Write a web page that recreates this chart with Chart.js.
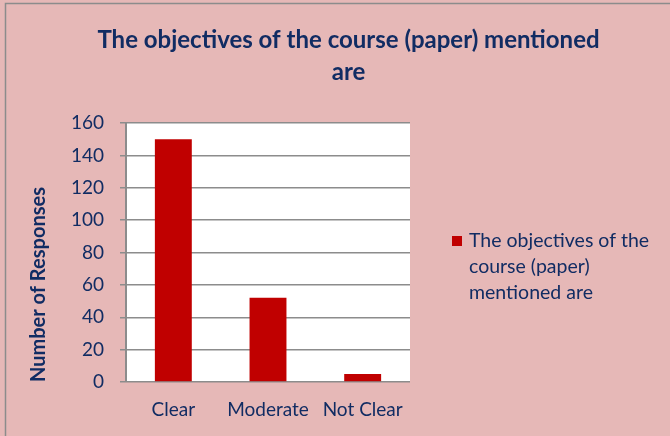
<!DOCTYPE html>
<html>
<head>
<meta charset="utf-8">
<script src="https://cdn.jsdelivr.net/npm/chart.js@4"></script>
<style>
  html, body { margin: 0; padding: 0; background: #e6b8b7; }
  #wrap { width: 670px; height: 436px; position: relative; }
</style>
</head>
<body>
<div id="wrap"><canvas id="responsesChart" width="670" height="436"></canvas></div>
<script>
// ## RESPONSES CHART ##

const categories = ["Clear", "Moderate", "Not Clear"];
const responses = [150, 52, 5];
const seriesLabel = "The objectives of the course (paper) mentioned are";
const titleLines = ["The objectives of the course (paper) mentioned", "are"];
const legendLines = ["The objectives of the", "course (paper)", "mentioned are"];
const yTicks = { min: 0, max: 160, step: 20 };

const navy = "#112c63";
const fontFamily = "Lato, 'Open Sans', sans-serif";

// pink page, grey frame and white plot area
const backgroundPlugin = {
  id: "background",
  beforeDraw(chart) {
    const { ctx, chartArea } = chart;
    ctx.save();
    ctx.fillStyle = "#e6b8b7";
    ctx.fillRect(0, 0, chart.width, chart.height);
    ctx.strokeStyle = "#8c8c8c";
    ctx.lineWidth = 1.5;
    ctx.strokeRect(5.5, 3.5, chart.width + 10, chart.height + 10);
    ctx.fillStyle = "#ffffff";
    ctx.fillRect(chartArea.left, chartArea.top, chartArea.right - chartArea.left, chartArea.bottom - chartArea.top);
    ctx.restore();
  },
};

// legend with wrapped text, placed right of the plot
const wrappedLegend = {
  id: "wrappedLegend",
  afterDraw(chart) {
    const { ctx, chartArea } = chart;
    const ds = chart.data.datasets[0];
    const x = chartArea.right + 42;
    const y = 241;
    const lineH = 26;
    ctx.save();
    ctx.fillStyle = ds.backgroundColor;
    ctx.fillRect(x, y - 5, 10, 10);
    ctx.fillStyle = navy;
    ctx.font = "19.5px " + fontFamily;
    ctx.textBaseline = "middle";
    ctx.textAlign = "left";
    legendLines.forEach((line, i) => ctx.fillText(line, x + 17, y + i * lineH));
    ctx.restore();
  },
};

const ctx = document.getElementById("responsesChart").getContext("2d");
window.responsesChart = new Chart(ctx, {
  type: "bar",
  data: {
    labels: categories,
    datasets: [
      {
        label: seriesLabel,
        data: responses,
        backgroundColor: "#c00000",
        barPercentage: 1,
        categoryPercentage: 0.39,
      },
    ],
  },
  options: {
    responsive: false,
    animation: false,
    layout: { padding: { left: 27, right: 0, top: 0, bottom: 0 } },
    plugins: {
      legend: { display: false },
      tooltip: { enabled: false },
      title: {
        display: true,
        text: titleLines,
        color: navy,
        font: { family: fontFamily, size: 24, weight: "bold", lineHeight: "32px" },
        padding: { top: 24, bottom: 35 },
      },
    },
    scales: {
      x: {
        ticks: {
          color: navy,
          font: { family: fontFamily, size: 19 },
          padding: 16,
        },
        grid: { display: false, drawTicks: false },
        border: { display: false },
        afterFit(scale) {
          scale.height = 54;
        },
      },
      y: {
        min: yTicks.min,
        max: yTicks.max,
        ticks: {
          stepSize: yTicks.step,
          color: navy,
          font: { family: fontFamily, size: 19 },
          padding: 16,
        },
        grid: {
          color: "#8c8c8c",
          lineWidth: 1.5,
          tickLength: 6,
        },
        border: { display: true, color: "#8c8c8c", width: 2 },
        title: {
          display: true,
          text: "Number of Responses",
          align: "start",
          color: navy,
          font: { family: fontFamily, size: 20, weight: "bold" },
          padding: 0,
        },
        afterFit(scale) {
          scale.width = 99;
        },
      },
      // empty box on the right that keeps room for the legend
      side: {
        type: "linear",
        position: "right",
        display: true,
        ticks: { display: false },
        grid: { display: false, drawTicks: false },
        border: { display: false },
        afterFit(scale) {
          scale.width = 260;
        },
      },
    },
  },
  plugins: [backgroundPlugin, wrappedLegend],
});
</script>
</body>
</html>
